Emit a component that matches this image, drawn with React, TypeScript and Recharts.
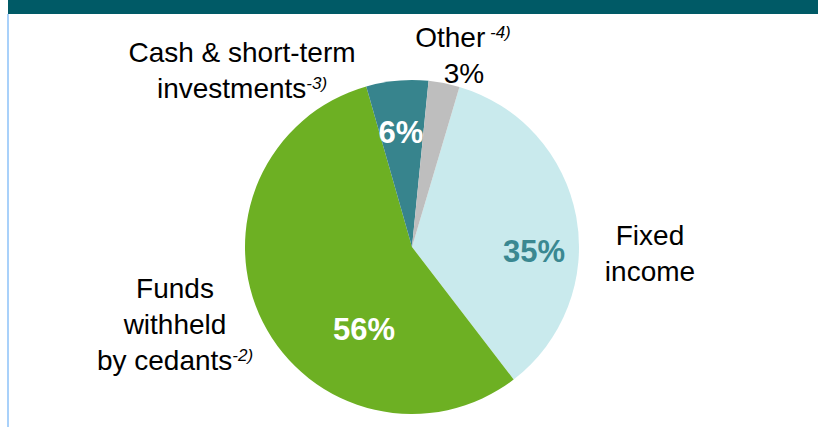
import { Cell, Pie, PieChart } from 'recharts';

const categories = ['Fixed income', 'Funds withheld by cedants', 'Cash & short-term investments', 'Other'];
const shares = [35, 56, 6, 3];
const colors = ['#c9eaed', '#6db023', '#37848d', '#bebebe'];

// outer label lines, footnote markers and inner value label colour
const labelLines = [['Fixed', 'income'], ['Funds', 'withheld', 'by cedants'], ['Cash & short-term', 'investments'], ['Other']];
const footnotes = ['', '-2)', '-3)', ' -4)'];
const valueColors = ['#3a8891', '#ffffff', '#ffffff', '#000000'];

const data = categories.map((name, i) => ({ name, value: shares[i] }));

// label placement relative to the pie centre
const outerPos = [
  { dx: 238, dy: -2 },
  { dx: -237, dy: 51 },
  { dx: -170, dy: -185 },
  { dx: 51, dy: -200 },
];
const innerPos = [
  { dx: 122, dy: 15 },
  { dx: -48, dy: 93 },
  { dx: -11, dy: -104 },
  { dx: 52, dy: -164 },
];

const FONT = 'Arial, "Liberation Sans", sans-serif';

const renderLabel = (props: any) => {
  const { cx, cy, index, value } = props;
  const lines = labelLines[index];
  const op = outerPos[index];
  const ip = innerPos[index];
  const inside = index !== 3;
  return (
    <g key={`lbl-${index}`}>
      {lines.map((line, j) => (
        <text
          key={j}
          x={cx + op.dx}
          y={cy + op.dy + j * 36}
          textAnchor="middle"
          fontSize={28}
          fontFamily={FONT}
          fill="#000"
        >
          {line}
          {j === lines.length - 1 && footnotes[index] && (
            <tspan fontSize={17} fontStyle="italic" dy={-9}>
              {footnotes[index]}
            </tspan>
          )}
        </text>
      ))}
      <text
        x={cx + ip.dx}
        y={cy + ip.dy}
        textAnchor="middle"
        fontSize={inside ? 31 : 28}
        fontWeight={inside ? 'bold' : 'normal'}
        fontFamily={FONT}
        fill={valueColors[index]}
      >
        {`${value}%`}
      </text>
    </g>
  );
};

export default function App() {
  return (
    <div style={{ position: 'absolute', left: 0, top: 0, width: 818, height: 427, background: '#fff' }}>
      <div style={{ position: 'absolute', left: 8, top: 0, width: 810, height: 14, background: '#005a66' }} />
      <div style={{ position: 'absolute', left: 7, top: 14, width: 2, height: 413, background: '#a9d1fa' }} />
      <div style={{ position: 'absolute', left: 0, top: 0 }}>
        <PieChart width={818} height={427} margin={{ top: 0, right: 0, bottom: 0, left: 0 }}>
          <Pie
            data={data}
            dataKey="value"
            nameKey="name"
            cx={412}
            cy={247}
            outerRadius={167}
            startAngle={73.5}
            endAngle={-286.5}
            stroke="none"
            labelLine={false}
            label={renderLabel}
            isAnimationActive={false}
          >
            {data.map((d, i) => (
              <Cell key={d.name} fill={colors[i]} />
            ))}
          </Pie>
        </PieChart>
      </div>
    </div>
  );
}
